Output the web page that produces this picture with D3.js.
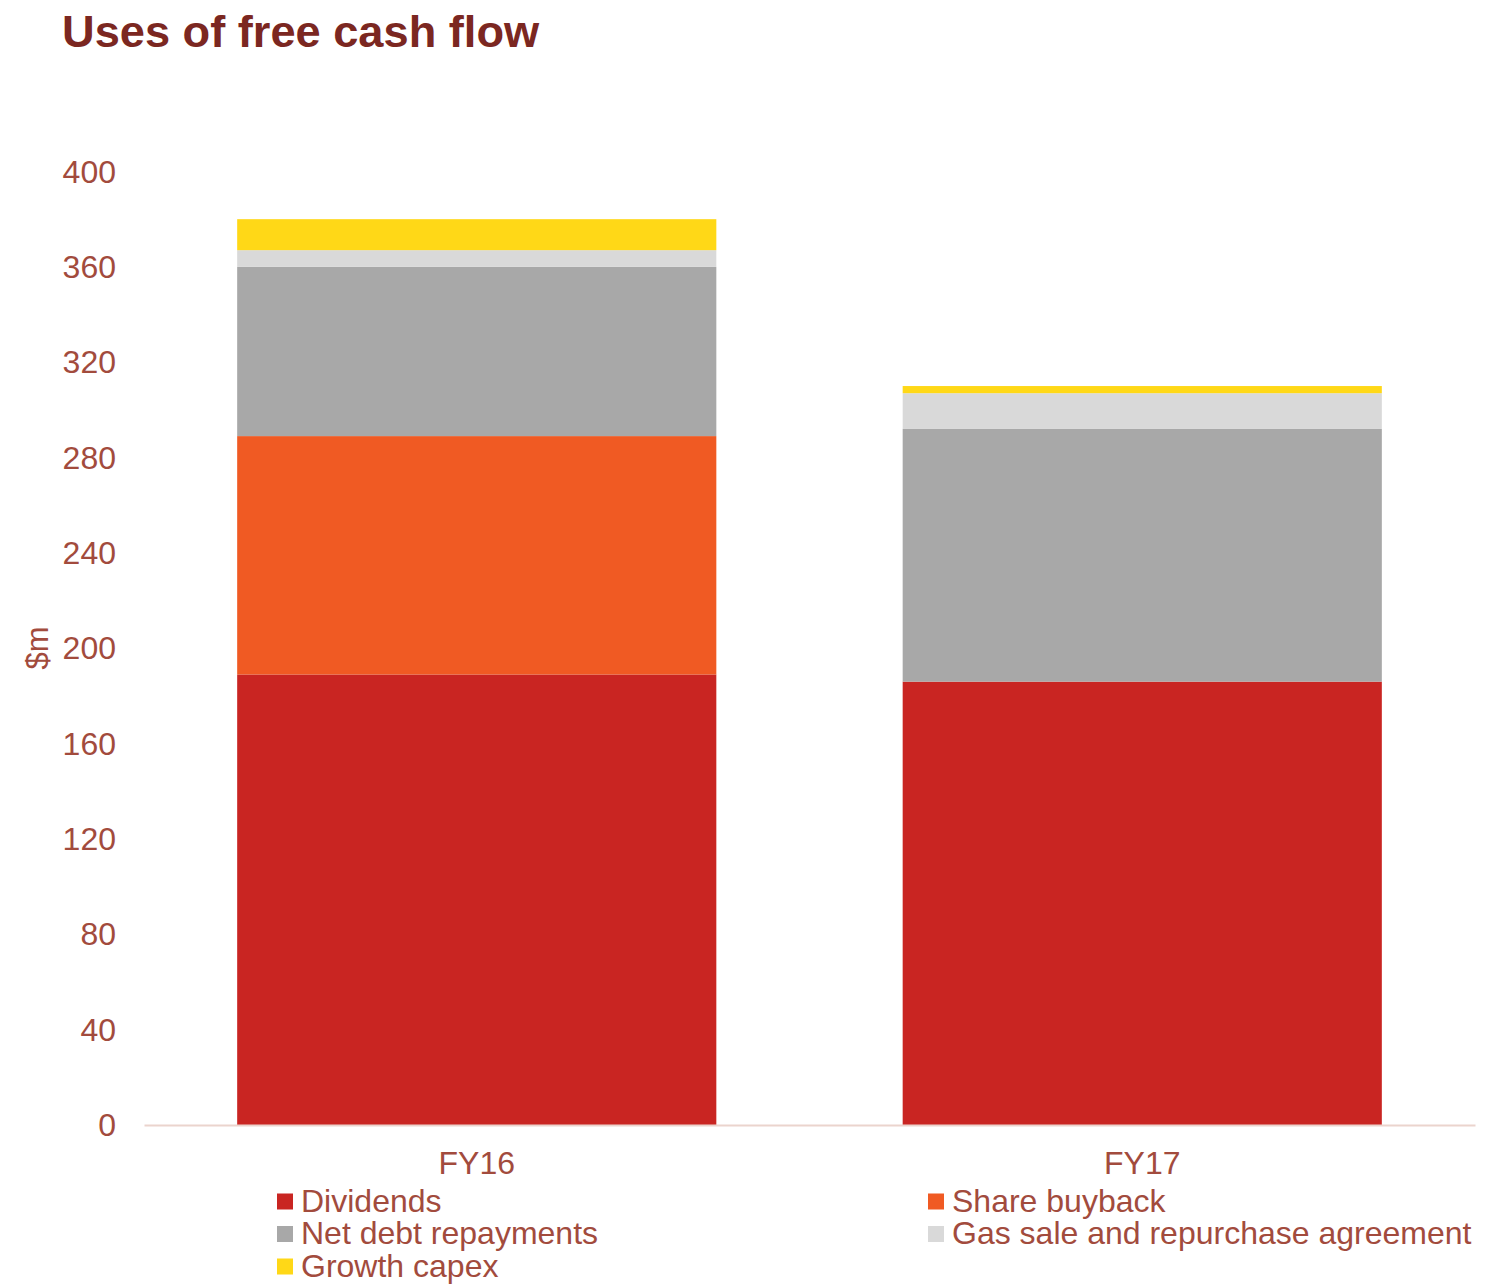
<!DOCTYPE html>
<html>
<head>
<meta charset="utf-8">
<script src="https://cdn.jsdelivr.net/npm/d3@7"></script>
<style>
  html, body { margin: 0; padding: 0; background: #ffffff; }
  svg { display: block; font-family: "Liberation Sans", Arial, sans-serif; }
</style>
</head>
<body>
<svg id="chart" width="1505" height="1284"></svg>
<script>
// Uses of free cash flow, $m, stacked by category
const periods = ["FY16", "FY17"];
const seriesNames = ["Dividends", "Share buyback", "Net debt repayments", "Gas sale and repurchase agreement", "Growth capex"];
const dividends = [189, 186];
const shareBuyback = [100, 0];
const netDebtRepayments = [71, 106];
const gasSaleRepurchase = [7, 15];
const growthCapex = [13, 3];
const yTicks = [0, 40, 80, 120, 160, 200, 240, 280, 320, 360, 400];
const seriesColors = ["#C92522", "#F05A23", "#A8A8A8", "#D9D9D9", "#FFD817"];

const seriesValues = [dividends, shareBuyback, netDebtRepayments, gasSaleRepurchase, growthCapex];
const rows = periods.map((p, i) => {
  const r = { period: p };
  seriesNames.forEach((s, k) => { r[s] = seriesValues[k][i]; });
  return r;
});

const svg = d3.select("#chart");
const textColor = "#A24B3D";

const x = d3.scaleBand().domain(periods).range([144, 1475]).paddingInner(0.28).paddingOuter(0.14);
const y = d3.scaleLinear().domain([0, 400]).range([1125, 171.5]);

const stacked = d3.stack().keys(seriesNames)(rows);

// bars
svg.append("g").selectAll("g")
  .data(stacked)
  .join("g")
  .attr("fill", (d, i) => seriesColors[i])
  .selectAll("rect")
  .data(d => d)
  .join("rect")
  .attr("x", d => x(d.data.period))
  .attr("width", x.bandwidth())
  .attr("y", d => y(d[1]))
  .attr("height", d => Math.max(0, y(d[0]) - y(d[1])));

// y axis labels
const yAxis = d3.axisLeft(y).tickValues(yTicks).tickSize(0).tickPadding(0);
const gy = svg.append("g").attr("transform", "translate(116,0)").call(yAxis);
gy.select(".domain").remove();
gy.selectAll("text")
  .attr("fill", textColor)
  .attr("font-size", 32)
  .attr("font-family", "Liberation Sans, Arial, sans-serif")
  .attr("dy", "0.33em");

// x axis baseline and labels
const xAxis = d3.axisBottom(x).tickSize(0).tickPadding(0);
const gx = svg.append("g").attr("transform", "translate(0,1125)").call(xAxis);
gx.select(".domain").attr("stroke", "#EBD4CD").attr("stroke-width", 2);
gx.selectAll("text")
  .attr("fill", textColor)
  .attr("font-size", 32)
  .attr("font-family", "Liberation Sans, Arial, sans-serif")
  .attr("dy", null)
  .attr("y", 49);

// y axis title
svg.append("text")
  .attr("transform", "translate(48,648) rotate(-90)")
  .attr("text-anchor", "middle")
  .attr("fill", textColor)
  .attr("font-size", 31)
  .text("$m");

// title
svg.append("text")
  .attr("x", 62)
  .attr("y", 47)
  .attr("fill", "#7B2721")
  .attr("font-size", 45.2)
  .attr("font-weight", "bold")
  .text("Uses of free cash flow");

// legend: two columns, filled row by row
const legendCols = [277, 928];
const legendRowY = [1211.5, 1244, 1276.5];
const legend = svg.append("g");
seriesNames.forEach((name, i) => {
  const cx = legendCols[i % 2];
  const ry = legendRowY[Math.floor(i / 2)];
  legend.append("rect")
    .attr("x", cx)
    .attr("y", ry - 18)
    .attr("width", 16)
    .attr("height", 16)
    .attr("fill", seriesColors[i]);
  legend.append("text")
    .attr("x", cx + 24)
    .attr("y", ry)
    .attr("fill", textColor)
    .attr("font-size", 32)
    .text(name);
});
</script>
</body>
</html>
